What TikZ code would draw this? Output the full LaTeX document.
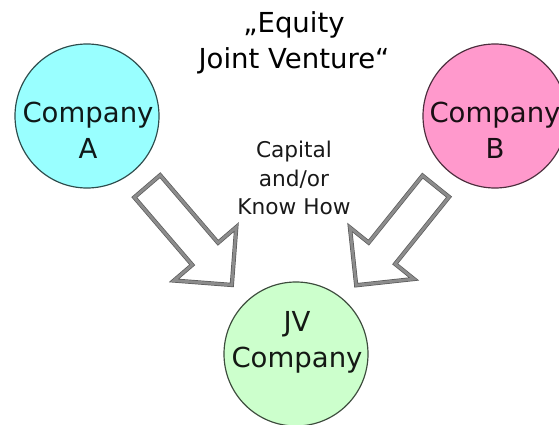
\documentclass[tikz,border=0pt]{standalone}
\usepackage{fontspec}
\setmainfont{DejaVu Sans}
\usepackage{tikz}
\usetikzlibrary{shapes}
\usetikzlibrary{shapes.arrows}
\definecolor{firmA}{RGB}{153,255,255}
\definecolor{firmB}{RGB}{255,153,204}
\definecolor{firmJV}{RGB}{204,255,204}
\tikzset{firm/.style={circle, draw=#1!30!black, fill=#1, line width=1pt, minimum size=4.32cm, inner sep=0pt}}
\tikzset{firmtext/.style={align=center, text=#1!10!black, font=\fontsize{23.5}{31}\selectfont}}
\tikzset{flow/.style={single arrow, single arrow tip angle=90, single arrow head extend=.72cm,
    inner xsep=0pt, inner ysep=.5cm, fill=white,
    draw=black!65, double=black!45, double distance=2.4pt, line width=.6pt}}

\begin{document}
\begin{tikzpicture}[x=0.03cm,y=-0.03cm]
  \useasboundingbox (0,0) rectangle (559,425);
  % the three companies
  \foreach \n/\c/\x/\y in {
    compA/firmA/87/116,
    compB/firmB/495/116,
    jv/firmJV/296/354%
  } {
    \node[firm=\c] (\n) at (\x, \y) {};
  }
  \foreach \n/\c/\x/\y/\t in {
    nameA/firmA/88/130/{Company\\A},
    nameB/firmB/495/130/{Company\\B},
    nameJV/firmJV/297/342/{JV\\Company}%
  } {
    \node[firmtext=\c] (\n) at (\x, \y) {\t};
  }
  \node[firmtext=black] (title) at (294, 43) {„Equity\\Joint Venture“};
  \node[align=center, text=black!90, font=\fontsize{18.5}{24.3}\selectfont] (input) at (294, 178)
    {Capital\\and/or\\Know How};
  % capital flowing into the joint venture
  \node[flow, minimum height=3.9cm, rotate=-49.4, anchor=tail] (flowA) at (147, 186) {};
  \node[flow, minimum height=3.81cm, rotate=-128.8, anchor=tail] (flowB) at (436, 186) {};
\end{tikzpicture}
\end{document}
